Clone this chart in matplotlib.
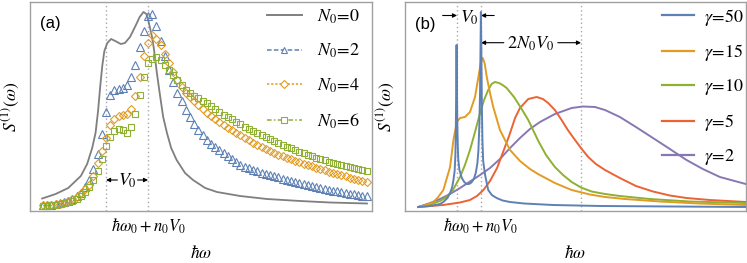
import numpy as np
import matplotlib
matplotlib.use('Agg')
import matplotlib.pyplot as plt
from matplotlib.lines import Line2D

plt.rcParams['mathtext.fontset'] = 'stix'
plt.rcParams['font.family'] = ['Liberation Sans', 'DejaVu Sans']

# ---------------- data, panel (a) ----------------
# frequency in units of V0, measured from hbar*w0 + n0*V0
omega_a = np.round(np.arange(-25, 53) * 0.1, 1)

s_N2 = [6, 6, 6.5, 7, 8, 9, 10.5, 12.5, 15, 18.5,
        24, 31, 42, 57, 77, 99, 116, 121, 122, 123,
        126, 134, 146, 164, 180, 195, 197, 185, 170, 155,
        141, 129, 118, 110, 101, 94, 87, 81, 76, 71,
        67, 64, 61, 58, 55, 52, 49, 46.5, 44.5, 43,
        41.5, 40, 38.5, 37, 36, 35, 33.7, 32.5, 31.3, 30,
        29, 28, 27, 26, 25, 24, 23, 22, 21.2, 20.4,
        19.6, 18.8, 18, 17.3, 16.6, 16, 15.4, 14.8]

s_N4 = [6, 6, 6.3, 6.8, 7.5, 8.5, 10, 12, 14.5, 18,
        22, 26, 35, 48, 60, 73, 86, 92, 95, 96,
        97, 102, 115, 134, 155, 168, 176, 172, 166, 157,
        148, 139, 131, 124, 118, 114, 110, 106, 102, 98,
        95, 92, 89, 86, 83.5, 81, 78.5, 76, 73.5, 71,
        68.5, 66, 64, 62, 60, 58, 56.5, 55, 53.5, 52,
        50.5, 49, 47.5, 46, 44.7, 43.4, 42.1, 40.8, 39.5, 38.2,
        37, 35.8, 34.6, 33.4, 32.2, 31, 29.8, 28.6]

s_N6 = [5.5, 5.5, 6, 6.3, 7, 7.8, 9, 10.5, 12.5, 15.5,
        19.5, 24.5, 31, 40, 52, 65, 74, 80, 82, 81,
        78, 84, 97, 116, 134, 148, 152, 154, 151, 146,
        141, 136, 131, 126, 121, 118, 115, 113, 110, 108,
        105, 102, 99, 96, 94, 92, 89.5, 87, 84.5, 82,
        80, 78, 76, 74, 72, 70, 68, 66, 64.3, 62.6,
        61, 59.4, 57.8, 56.3, 54.8, 53.4, 52, 50.7, 49.4, 48.2,
        47, 45.9, 44.8, 43.7, 42.7, 41.7, 40.8, 40]

omega_N0 = [-2.52, -2.2, -1.9, -1.6, -1.45, -1.33, -1.25, -1.19, -1.14, -1.09,
            -1.04, -0.97, -0.88, -0.78, -0.65, -0.55, -0.43, -0.3, -0.2, -0.11,
            -0.04, 0.02, 0.09, 0.14, 0.21, 0.29, 0.36, 0.45, 0.55, 0.68,
            0.88, 1.07, 1.36, 1.64, 2.19, 2.83, 3.62, 4.33, 5.21]
s_N0 = [12.5, 17, 23, 35, 47, 63, 78, 100, 124, 145,
        160, 168, 172, 170, 167, 168, 174, 185, 194, 199,
        197, 188, 175, 162, 138, 114, 94, 78, 63, 51,
        38, 31, 23, 19, 15, 12, 10, 8.5, 7.5]

labels_a = [r'$N_0\!=\!0$', r'$N_0\!=\!2$', r'$N_0\!=\!4$', r'$N_0\!=\!6$']

# ---------------- data, panel (b) ----------------
omega_g50 = [-2.62, -2.12, -1.71, -1.57, -1.40, -1.29, -1.20, -1.15, -1.10, -1.07,
             -1.05, -1.035, -1.02, -1.005, -0.99, -0.97, -0.95, -0.90, -0.80, -0.70,
             -0.60, -0.50, -0.40, -0.30, -0.22, -0.15, -0.11, -0.07, -0.04, -0.02,
             -0.005, 0.015, 0.035, 0.06, 0.09, 0.17, 0.30, 0.45, 0.65, 0.90,
             1.21, 1.8, 3.0, 5.0, 8.0, 11.04]
s_g50 = [4, 5, 7, 9, 13, 18, 24, 31, 40, 55,
         80, 125, 166, 125, 90, 66, 52, 41, 33, 29,
         27, 27, 28.5, 32, 38, 48, 60, 85, 120, 165,
         199, 160, 105, 70, 50, 36, 21, 16, 13, 10.5,
         9, 7.5, 6, 5, 4.5, 4]

omega_g15 = [-2.62, -2.3, -1.99, -1.8, -1.57, -1.29, -1.15, -1.01, -0.875, -0.67,
             -0.46, -0.25, -0.11, -0.01, 0.07, 0.15, 0.24, 0.375, 0.51, 0.79,
             1.21, 1.625, 2.04, 2.375, 3.08, 3.78, 4.54, 5.17, 6.0, 7.46,
             9.1, 11.04]
s_g15 = [4, 6, 9, 13.5, 21, 44, 71, 89, 93, 94,
         99, 114, 134, 148, 153, 148, 134, 118, 104, 81,
         61, 50, 42, 37, 28, 21, 16.5, 14, 12, 9.5,
         7.5, 6]

omega_g10 = [-2.62, -2.12, -1.71, -1.43, -1.17, -0.875, -0.67, -0.46, -0.25, -0.04,
             0.125, 0.30, 0.44, 0.58, 0.75, 0.90, 1.07, 1.375, 1.67, 1.97,
             2.39, 2.71, 3.08, 3.42, 3.78, 4.17, 4.61, 5.17, 5.79, 7.04,
             8.7, 11.04]
s_g10 = [4, 6.5, 10, 14, 21, 34, 46, 61, 79, 98,
         111, 121, 127, 129, 128, 126, 123, 114, 103, 91,
         70, 56, 44, 36, 29, 23.5, 19.5, 17, 15, 12,
         9.5, 8]

omega_g5 = [-2.62, -1.58, -0.875, -0.46, -0.17, 0.10, 0.375, 0.67, 0.92, 1.17,
            1.42, 1.625, 1.97, 2.32, 2.58, 2.80, 3.08, 3.36, 3.62, 3.92,
            4.20, 4.47, 4.79, 5.17, 5.79, 6.46, 7.17, 7.875, 8.57, 9.54,
            11.04]
s_g5 = [4, 6, 8.5, 11, 15, 21, 30, 43, 59, 75,
        93, 103, 112, 114, 112, 108, 101, 91, 81, 71,
        62, 54, 47, 41, 33, 25, 19.5, 15.5, 13, 11,
        9]

omega_g2 = [-2.62, -2.12, -1.71, -1.29, -0.875, -0.46, -0.04, 0.375, 0.79, 1.21,
            1.625, 2.04, 2.46, 3.08, 3.78, 4.25, 4.75, 5.17, 5.79, 6.46,
            7.17, 7.875, 8.57, 9.25, 9.96, 11.04]
s_g2 = [4, 8, 12, 17, 23, 29.5, 36, 43, 52, 63,
        73, 82, 89, 97, 103, 104.5, 104, 101, 94, 84,
        73, 62, 51, 42, 34, 27]

labels_b = [r'$\gamma\!=\!50$', r'$\gamma\!=\!15$', r'$\gamma\!=\!10$',
            r'$\gamma\!=\!5$', r'$\gamma\!=\!2$']

# reference frequencies (units of V0)
shift_left = -1.0
two_N0_V0 = 4.17

# ---------------- style ----------------
GRAY = '#7f7f7f'
BLUE = '#5E81B5'
ORANGE = '#E19C24'
GREEN = '#8FB032'
RED = '#EB6235'
PURPLE = '#8778B3'
FRAME = '#a0a0a0'
DOT = '#a8a8a8'
FS = 12
LFS = 13

fig = plt.figure(figsize=(7.47, 2.63), dpi=100)
axA = fig.add_axes([30 / 747, 52 / 263, 342 / 747, 209 / 263])
axB = fig.add_axes([405 / 747, 52 / 263, 341 / 747, 209 / 263])

for ax in (axA, axB):
    for sp in ax.spines.values():
        sp.set_color(FRAME)
        sp.set_linewidth(1.0)
    ax.set_yticks([])
    ax.set_ylim(0, 209)
    ax.tick_params(axis='x', length=0, pad=4, labelsize=FS)
    ax.set_xticks([0])
    ax.set_xticklabels([r'$\hbar\omega_0+n_0V_0$'])
    ax.set_xlabel(r'$\hbar\omega$', fontsize=FS + 0.5)
    ax.xaxis.label.set_va('center')
    ax.xaxis.set_label_coords(0.5, -(252 - 211) / 209)
    ax.set_ylabel(r'$S^{(1)}(\omega)$', fontsize=FS + 0.5)
    ax.yaxis.label.set_va('center')
    ax.yaxis.set_label_coords(-20 / 342, (211 - 107) / 209)

# ---------------- panel (a) ----------------
axA.set_xlim(-2.81, 5.33)
axA.axvline(shift_left, color=DOT, ls=(0, (1, 2)), lw=1.0, zorder=1)
axA.axvline(0, color=DOT, ls=(0, (1, 2)), lw=1.0, zorder=1)

axA.plot(omega_N0, s_N0, color=GRAY, lw=1.3, zorder=3)
mk = dict(ls='none', mfc='none', mew=0.8, zorder=4)
axA.plot(omega_a, s_N2, marker='^', mec=BLUE, ms=5.2, **mk)
axA.plot(omega_a, s_N4, marker='D', mec=ORANGE, ms=4.2, **mk)
axA.plot(omega_a, s_N6, marker='s', mec=GREEN, ms=4.6, **mk)

arr = dict(arrowstyle='-|>', color='k', lw=0.8, mutation_scale=6,
           shrinkA=0, shrinkB=0)
axA.annotate('', xy=(shift_left, 31), xytext=(-0.73, 31), arrowprops=arr)
axA.annotate('', xy=(0, 31), xytext=(-0.25, 31), arrowprops=arr)
axA.text(-0.49, 30, r'$V_0$', ha='center', va='center', fontsize=LFS)
axA.text(0.058, 0.895, '(a)', transform=axA.transAxes, ha='center',
         va='center', fontsize=FS)

hA = [Line2D([], [], color=GRAY, lw=1.4),
      Line2D([], [], color=BLUE, lw=1.1, ls=(0, (3, 1.5)), marker='^',
             ms=5, mfc='white', mew=0.8),
      Line2D([], [], color=ORANGE, lw=1.1, ls=(0, (1.5, 1.2)), marker='D',
             ms=4, mfc='white', mew=0.8),
      Line2D([], [], color=GREEN, lw=1.1, ls=(0, (3, 1.5, 1, 1.5)),
             marker='s', ms=4.4, mfc='white', mew=0.8)]
axA.legend(hA, labels_a, loc='upper left', bbox_to_anchor=(0.692, 0.975),
           frameon=False, fontsize=LFS, handlelength=1.95,
           handletextpad=0.85, labelspacing=0.9, borderpad=0,
           borderaxespad=0, numpoints=1)

# ---------------- panel (b) ----------------
axB.set_xlim(-3.17, 11.05)
for xv in (shift_left, 0, two_N0_V0):
    axB.axvline(xv, color=DOT, ls=(0, (1, 2)), lw=1.0, zorder=1)

axB.plot(omega_g2, s_g2, color=PURPLE, lw=1.4, zorder=3)
axB.plot(omega_g5, s_g5, color=RED, lw=1.4, zorder=3)
axB.plot(omega_g10, s_g10, color=GREEN, lw=1.4, zorder=3)
axB.plot(omega_g15, s_g15, color=ORANGE, lw=1.4, zorder=3)
axB.plot(omega_g50, s_g50, color=BLUE, lw=1.4, zorder=4)

axB.annotate('', xy=(shift_left, 195.5), xytext=(-1.6, 195.5), arrowprops=arr)
axB.annotate('', xy=(0, 195.5), xytext=(0.55, 195.5), arrowprops=arr)
axB.text(-0.48, 193, r'$V_0$', ha='center', va='center', fontsize=LFS)
axB.annotate('', xy=(0, 168.3), xytext=(0.95, 168.3), arrowprops=arr)
axB.annotate('', xy=(two_N0_V0, 168.3), xytext=(3.2, 168.3), arrowprops=arr)
axB.text(2.08, 167.5, r'$2N_0V_0$', ha='center', va='center', fontsize=LFS)
axB.text(0.059, 0.89, '(b)', transform=axB.transAxes, ha='center',
         va='center', fontsize=FS)

hB = [Line2D([], [], color=c, lw=1.6) for c in (BLUE, ORANGE, GREEN, RED, PURPLE)]
axB.legend(hB, labels_b, loc='upper left', bbox_to_anchor=(0.753, 0.978),
           frameon=False, fontsize=LFS, handlelength=1.8,
           handletextpad=0.55, labelspacing=0.8, borderpad=0,
           borderaxespad=0)

fig.savefig('out.png', dpi=100)
